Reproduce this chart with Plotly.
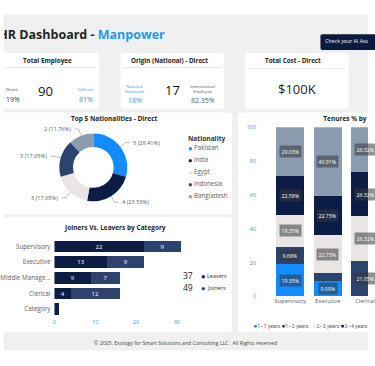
import math
import plotly.graph_objects as go

W, H = 375, 366
FONT = "Segoe UI, Open Sans, sans-serif"
NARROW = "Roboto, Open Sans, sans-serif"

# ---------------- data ----------------
nat_labels = ["Pakistan", "India", "Egypt", "Indonesia", "Bangladesh"]
nat_values = [5, 4, 3, 3, 2]

jl_categories = ["Supervisory", "Executive", "Middle Manage...", "Clerical", "Category"]
leavers = [22, 13, 9, 4, 1]
joiners = [9, 9, 7, 12, 0]
leavers_total = 37
joiners_total = 49

ten_categories = ["Supervisory", "Executive", "Clerical"]
ten_series = ["1–1 years", "1–2 years", "2–3 years", "3–4 years", "4+ years"]
ten_1_1 = [19.35, 9.09, 0.0]
ten_1_2 = [9.68, 4.54, 21.05]
ten_2_3 = [19.35, 22.73, 26.32]
ten_3_4 = [22.58, 22.73, 26.32]
ten_4p = [29.03, 40.91, 26.32]

kpi_total = "90"
kpi_direct_pct = "19%"
kpi_indirect_pct = "81%"
kpi_national = "17"
kpi_nat_pct = "18%"
kpi_intl_pct = "82.35%"
kpi_cost = "$100K"

# ---------------- colours ----------------
BLUE = "#118DFF"
NAVY = "#0B1D44"
SLATE = "#2C436E"
LIGHT = "#E9E5E4"
GREYBLUE = "#8B9BB0"
nat_colors = [BLUE, NAVY, LIGHT, SLATE, GREYBLUE]
ten_colors = [BLUE, SLATE, LIGHT, NAVY, GREYBLUE]
TXT = "#252423"
SUB = "#605E5C"
AXBLUE = "#3D95DD"


def px(x):
    return x / W


def py(y):
    return 1 - y / H


shapes = []
annotations = []


def rrect(x0, y0, x1, y1, r=4, fill="white"):
    p = (f"M {px(x0+r)},{py(y0)} L {px(x1-r)},{py(y0)} Q {px(x1)},{py(y0)} {px(x1)},{py(y0+r)} "
         f"L {px(x1)},{py(y1-r)} Q {px(x1)},{py(y1)} {px(x1-r)},{py(y1)} "
         f"L {px(x0+r)},{py(y1)} Q {px(x0)},{py(y1)} {px(x0)},{py(y1-r)} "
         f"L {px(x0)},{py(y0+r)} Q {px(x0)},{py(y0)} {px(x0+r)},{py(y0)} Z")
    shapes.append(dict(type="path", path=p, xref="paper", yref="paper",
                       fillcolor=fill, line=dict(width=0), layer="below"))


def hline(x0, x1, y, color="#E3E3E3", w=0.8):
    shapes.append(dict(type="line", xref="paper", yref="paper", x0=px(x0), x1=px(x1),
                       y0=py(y), y1=py(y), line=dict(color=color, width=w), layer="below"))


def ann(x, y, text, size=7, color=TXT, xanchor="center", bold=False, **kw):
    if bold:
        text = f"<b>{text}</b>"
    annotations.append(dict(x=px(x), y=py(y), xref="paper", yref="paper", text=text,
                            showarrow=False, xanchor=xanchor, yanchor="middle",
                            font=dict(size=size, color=color, family=FONT), **kw))


fig = go.Figure()

# background
shapes.append(dict(type="rect", xref="paper", yref="paper", x0=0, x1=1, y0=py(354), y1=py(11),
                   fillcolor="#F0F0F0", line=dict(width=0), layer="below"))

# header button
rrect(326, 31, 385, 47, r=2, fill="#0B1A3D")

# KPI cards
rrect(-6, 50, 98, 107)
ann(45, 57.5, "Total Employee", size=6.4, bold=True)
hline(0, 95, 65)
ann(0, 87.5, "Direct", size=4.2, color="#2E3B55", xanchor="left")
ann(0, 98, kpi_direct_pct, size=7, color="#2E3B55", xanchor="left")
ann(43, 89, kpi_total, size=13, color="#111")
ann(84, 87.5, "InDirect", size=4.2, color=AXBLUE)
ann(84, 98, kpi_indirect_pct, size=7, color=AXBLUE)

rrect(120, 50, 227, 107)
ann(170, 57.5, "Origin (National) - Direct", size=6.3, bold=True)
hline(123, 224, 65)
ann(135, 86.5, "National<br>Employee", size=4.2, color=AXBLUE)
ann(135, 98.5, kpi_nat_pct, size=7, color=AXBLUE)
ann(174, 88, kpi_national, size=13, color="#111")
ann(205, 87, "International<br>Employee", size=4.2, color="#555")
ann(205, 98.5, kpi_intl_pct, size=7, color="#4D5F7A")

rrect(248, 50, 355, 107)
ann(298, 57.5, "Total Cost - Direct", size=6.3, bold=True)
hline(252, 352, 66)
ann(302, 87, kpi_cost, size=13, color="#222")

# chart cards
rrect(-6, 111, 235, 215)
ann(113, 117.5, "Top 5 Nationalities - Direct", size=6.5, bold=True)
rrect(-6, 218, 235, 335)
ann(114, 228.5, "Joiners Vs. Leavers by Category", size=6.5, bold=True)
rrect(241, 111, 385, 335)

# footer
ann(187, 347, "© 2025, Exology for Smart Solutions and Consulting LLC . All Rights reserved", size=5.2, color="#444")

# ---------------- donut ----------------
cx, cy, R = 92, 167, 35
fig.add_trace(go.Pie(labels=nat_labels, values=nat_values, hole=0.6, sort=False,
                     direction="clockwise", rotation=0, textinfo="none",
                     marker=dict(colors=nat_colors, line=dict(width=0)),
                     domain=dict(x=[px(cx - R), px(cx + R)], y=[py(cy + R), py(cy - R)]),
                     showlegend=False, hoverinfo="skip"))
tot = sum(nat_values)
cum = 0
for lab, v in zip(nat_labels, nat_values):
    mid = (cum + v / 2) / tot * 2 * math.pi
    cum += v
    sx, sy = cx + R * math.sin(mid), cy - R * math.cos(mid)
    bx, by = cx + 1.2 * R * math.sin(mid), cy - 1.2 * R * math.cos(mid)
    side = 1 if math.sin(mid) >= 0 else -1
    ex = bx + side * 4
    for (a, b, c, d) in [(sx, sy, bx, by), (bx, by, ex, by)]:
        shapes.append(dict(type="line", xref="paper", yref="paper", x0=px(a), y0=py(b),
                           x1=px(c), y1=py(d), line=dict(color="#A0A0A0", width=0.7)))
    ann(ex + side * 1.5, by, f"{v} ({v / tot * 100:.2f}%)", size=5.6, color=SUB,
        xanchor="left" if side > 0 else "right")

ann(188, 138, "Nationality", size=6.6, bold=True, xanchor="left", color="#333")
for i, (lab, col) in enumerate(zip(nat_labels, nat_colors)):
    yy = 147 + i * 12.2
    ann(187, yy, "●", size=7.5, color=col, xanchor="left")
    ann(194, yy, lab, size=6.2, color=SUB, xanchor="left")

# ---------------- joiners vs leavers ----------------
for name, vals, col in [("Leavers", leavers, NAVY), ("Joiners", joiners, SLATE)]:
    fig.add_trace(go.Bar(y=jl_categories, x=vals, orientation="h", name=name,
                         marker=dict(color=col, line=dict(width=0)),
                         text=[str(v) if v >= 3 else "" for v in vals], textposition="inside",
                         insidetextanchor="middle", textangle=0, constraintext="none",
                         textfont=dict(color="white", size=6, family=FONT),
                         xaxis="x", yaxis="y", showlegend=False, hoverinfo="skip"))
ann(190, 278, str(leavers_total), size=8.5, color="#222")
ann(201, 278, "●", size=7.5, color=NAVY, xanchor="left")
ann(207, 278, "Leavers", size=5.5, color="#333", xanchor="left")
ann(190, 290, str(joiners_total), size=8.5, color="#222")
ann(201, 290, "●", size=7.5, color=SLATE, xanchor="left")
ann(207, 290, "Joiners", size=5.5, color="#333", xanchor="left")

# ---------------- tenure ----------------
ten_values = [ten_1_1, ten_1_2, ten_2_3, ten_3_4, ten_4p]
for name, vals, col in zip(ten_series, ten_values, ten_colors):
    fig.add_trace(go.Bar(x=ten_categories, y=vals, name=name, marker=dict(color=col, line=dict(width=0)),
                         xaxis="x2", yaxis="y2", showlegend=False, hoverinfo="skip"))
for ci in range(len(ten_categories)):
    base = 0
    for vals in ten_values:
        v = vals[ci]
        if v > 5:
            annotations.append(dict(x=ci, y=base + v / 2, xref="x2", yref="y2", text=f"{v:.2f}%",
                                    showarrow=False, bgcolor="rgba(55,55,60,0.55)", borderpad=1.5,
                                    font=dict(size=5.2, color="white", family=FONT)))
        base += v

# ---------------- texts that run past the page edge (full-page overlay axis) ----------------
fig.add_trace(go.Scatter(x=[-6, 331, 329], y=[32.5, 39, 117.5],
                         text=["<b>HR Dashboard - <span style='color:#1B9CE5'>Manpower</span></b>",
                               "Check your AI Assistant", "<b>Tenures % by Category</b>"],
                         mode="text", textposition="middle right",
                         textfont=dict(size=[12.5, 5.2, 6.5], color=[TXT, "white", TXT], family=FONT),
                         xaxis="x3", yaxis="y3", showlegend=False, hoverinfo="skip", cliponaxis=True))
leg_x = [256.5, 285.5, 317.5, 346.5]
fig.add_trace(go.Scatter(x=leg_x, y=[329.5] * 4,
                         text=[f"<span style='color:{c};font-size:7px'>●</span>{n}"
                               for n, c in zip(ten_series[:4], ten_colors[:4])],
                         mode="text", textposition="middle right",
                         textfont=dict(size=5.2, color=SUB, family=NARROW),
                         xaxis="x3", yaxis="y3", showlegend=False, hoverinfo="skip", cliponaxis=True))

fig.update_layout(
    width=W, height=H, autosize=False, margin=dict(l=0, r=0, t=0, b=0),
    paper_bgcolor="white", plot_bgcolor="rgba(0,0,0,0)",
    barmode="stack", bargap=0.25,
    shapes=shapes, annotations=annotations,
    font=dict(family=FONT),
    xaxis=dict(domain=[px(52), px(190)], range=[0, 138 / 4.2], tickvals=[0, 10, 20, 30],
               showgrid=False, zeroline=False, showline=False,
               tickfont=dict(size=5.5, color=AXBLUE), anchor="y"),
    yaxis=dict(domain=[py(320), py(240)], autorange="reversed", showgrid=False, zeroline=False,
               tickfont=dict(size=6.3, color=SUB), anchor="x", ticklabelstandoff=3),
    xaxis2=dict(domain=[px(270), 1.0], range=[-0.65, 2.08], showgrid=False, zeroline=False,
                tickfont=dict(size=5.8, color=SUB), anchor="y2", fixedrange=True),
    yaxis2=dict(domain=[py(299), py(126)], range=[0, 100], tickvals=[0, 20, 40, 60, 80, 100],
                ticksuffix="%", showgrid=False, zeroline=False,
                tickfont=dict(size=5.5, color=AXBLUE), anchor="x2", ticklabelstandoff=9),
    xaxis3=dict(domain=[0, 1], range=[0, W], visible=False, anchor="y3", fixedrange=True),
    yaxis3=dict(domain=[0, 1], range=[H, 0], visible=False, anchor="x3", fixedrange=True),
)

fig.write_html("out.html", config={"displayModeBar": False},
               post_script="document.body.style.margin='0';")
